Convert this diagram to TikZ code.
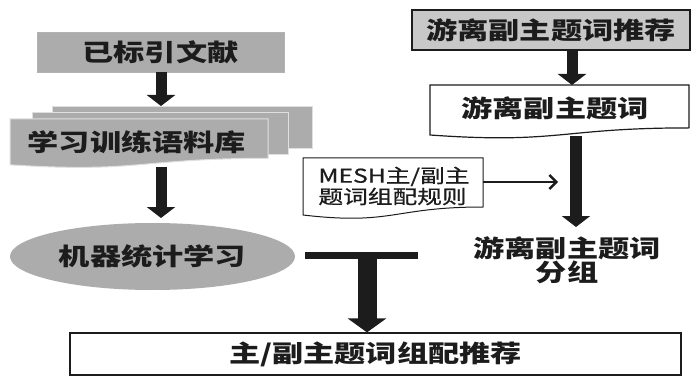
\documentclass[tikz,border=0pt]{standalone}
\usepackage{fontspec}
\usetikzlibrary{arrows.meta,shapes.geometric}
\newfontfamily\cjk[FakeStretch=1.3]{Noto Sans CJK SC}
\newfontfamily\cjkm[FakeStretch=1.3,FakeBold=0.8]{Noto Sans CJK SC}
\definecolor{boxgray}{RGB}{172,172,172}
\definecolor{lightgray2}{RGB}{200,200,200}
\definecolor{ink}{RGB}{28,28,28}
\tikzset{
  lbl/.style={font=\cjk\bfseries\fontsize{24}{21}\selectfont, text=ink, inner sep=0pt},
  smalllbl/.style={font=\cjkm\fontsize{19}{21}\selectfont, text=ink, inner sep=0pt, align=left},
  bigarrow/.style={draw=ink, line width=11pt, -{Triangle[width=28pt,length=11pt]}},
  thinarrow/.style={draw=ink, line width=2.4pt, -{Straight Barb[length=7pt,width=14pt,line width=2.4pt]}},
  layer/.style={fill=boxgray, draw=gray!25, line width=1pt},
  outline/.style={draw=ink, line width=1.2pt}
}
\begin{document}
\begin{tikzpicture}[x=1pt,y=-1pt]
\useasboundingbox[fill=white] (0,0) rectangle (691,377);

% left column
\node[lbl, fill=boxgray, draw=gray!60, line width=0.8pt, minimum width=247pt, minimum height=40pt] (a) at (160.5,52) {已标引文献};

% multi-document corpus
\path[layer] (52,107) rectangle (312,149);
\path[layer] (32,113) rectangle (288,155);
\path[layer] (10,119) -- (268,119) -- (268,158.3) .. controls (139,158.3) and (139,173.2) .. (10,164.8) -- cycle;
\node[lbl] (c) at (137,142) {学习训练语料库};
\coordinate (cTop) at (161,106);
\coordinate (cBot) at (161,167);

\node[lbl, ellipse, fill=boxgray, minimum width=285pt, minimum height=67pt] (e) at (152.5,256.5) {机器统计学习};
\coordinate (eTop) at (161,218);

\draw[bigarrow] (a.south -| cTop) -- (cTop);
\draw[bigarrow] (cBot) -- (eTop);

% right column
\node[lbl, fill=lightgray2, outline, minimum width=278pt, minimum height=40pt] (r1) at (551,30) {游离副主题词推荐};

\path[outline, fill=white] (430,85) -- (689,85) -- (689,127.9) .. controls (559.5,127.9) and (559.5,144.2) .. (430,135) -- cycle;
\node[lbl] (r2) at (555,108) {游离副主题词};
\coordinate (r2Top) at (572,85);
\coordinate (r2Bot) at (576,136);

\node[lbl, align=center] (g) at (567,260) {游离副主题词\\分组};
\coordinate (gTop) at (576,227);

\draw[bigarrow] (r1.south -| r2Top) -- (r2Top);
\draw[bigarrow, line width=12pt] (r2Bot) -- (gTop);

% MESH rules
\path[outline, line width=1pt, fill=white] (303,158) -- (483,158) -- (483,207) .. controls (393,207) and (393,225.5) .. (303,215) -- cycle;
\node[smalllbl] (m) at (394,186) {MESH主/副主\\题词组配规则};
\coordinate (mE) at (483,182);
\coordinate (shaftL) at (558,182);
\draw[thinarrow] (mE) -- (shaftL);

% merge bar and bottom box
\coordinate (barL) at (305,255);
\coordinate (barR) at (418,255);
\coordinate (barMid) at (367,255);
\draw[ink, line width=7pt] (barL) -- (barR);

\node[lbl, fill=white, outline, minimum width=611pt, minimum height=42pt] (b) at (375.5,354) {主/副主题词组配推荐};
\draw[bigarrow, line width=19pt, -{Triangle[width=38pt,length=14pt]}] (barMid) -- (b.north -| barMid);
\end{tikzpicture}
\end{document}
